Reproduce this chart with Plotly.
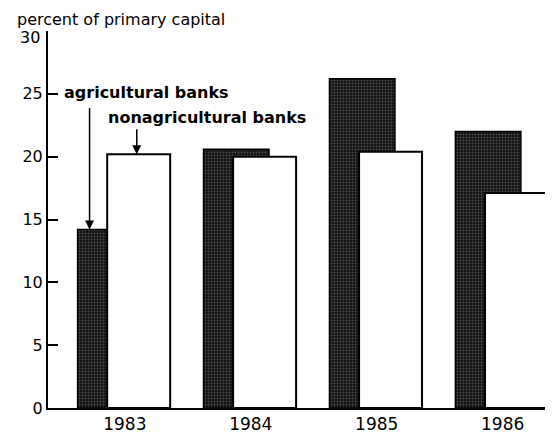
import plotly.graph_objects as go

years = ["1983", "1984", "1985", "1986"]
agricultural = [14.2, 20.6, 26.2, 22.0]
nonagricultural = [20.2, 20.0, 20.4, 17.1]
y_ticks = [0, 5, 10, 15, 20, 25, 30]
y_tick_text = ["0", "5", "10", "15", "20", "25", ""]  # "30" is drawn a bit lower below

FONT = "DejaVu Sans, Arial, sans-serif"

fig = go.Figure()
fig.add_trace(
    go.Bar(
        x=years,
        y=agricultural,
        name="agricultural banks",
        width=0.52,
        offset=-0.375,
        marker=dict(
            color="#121212",
            line=dict(color="black", width=1.5),
            pattern=dict(shape=".", fgcolor="#8c8c8c", size=3, solidity=0.3),
        ),
    )
)
fig.add_trace(
    go.Bar(
        x=years,
        y=nonagricultural,
        name="nonagricultural banks",
        width=0.5,
        offset=-0.14,
        marker=dict(color="white", line=dict(color="black", width=2)),
    )
)

# labels with arrows pointing at the 1983 bars
fig.add_annotation(
    x=-0.28, y=agricultural[0], ax=-0.28, ay=24.0,
    xref="x", yref="y", axref="x", ayref="y",
    text="", showarrow=True, arrowhead=2, arrowsize=1.2, arrowwidth=1.5,
    arrowcolor="black",
)
fig.add_annotation(
    x=0.095, y=nonagricultural[0], ax=0.095, ay=22.3,
    xref="x", yref="y", axref="x", ayref="y",
    text="", showarrow=True, arrowhead=2, arrowsize=1.2, arrowwidth=1.5,
    arrowcolor="black",
)
fig.add_annotation(
    x=-0.5, y=25.1, xref="x", yref="y", xanchor="left", yanchor="middle",
    text="<b>agricultural banks</b>", showarrow=False,
    font=dict(family=FONT, size=16, color="black"),
)
fig.add_annotation(
    x=-0.15, y=23.1, xref="x", yref="y", xanchor="left", yanchor="middle",
    text="<b>nonagricultural banks</b>", showarrow=False,
    font=dict(family=FONT, size=16, color="black"),
)
fig.add_annotation(
    x=-0.065, y=1.061, xref="paper", yref="paper", xanchor="left", yanchor="top",
    text="percent of primary capital", showarrow=False,
    font=dict(family=FONT, size=16, color="black"),
)
fig.add_annotation(
    x=0, y=y_ticks[-1], xref="paper", yref="y", xanchor="right", yanchor="middle",
    xshift=-6, yshift=-6, text=str(y_ticks[-1]), showarrow=False,
    font=dict(family=FONT, size=16, color="black"),
)

# the page body adds 8px on top/left, so the figure is 8px smaller
fig.update_layout(
    barmode="overlay",
    showlegend=False,
    width=545,
    height=429,
    margin=dict(l=40, r=0, t=23, b=29),
    plot_bgcolor="white",
    paper_bgcolor="white",
    font=dict(family=FONT, size=16, color="black"),
)
fig.update_xaxes(
    range=[-0.61, 3.4],
    showline=True, linecolor="black", linewidth=2,
    showgrid=False, ticks="", tickfont=dict(size=17),
)
fig.update_yaxes(
    range=[0, 30],
    tickvals=y_ticks,
    ticktext=y_tick_text,
    showline=True, linecolor="black", linewidth=2,
    showgrid=False, zeroline=False,
    ticks="inside", ticklen=10, tickwidth=1.5, tickcolor="black",
    tickfont=dict(size=16),
)

fig.write_html("out.html")
